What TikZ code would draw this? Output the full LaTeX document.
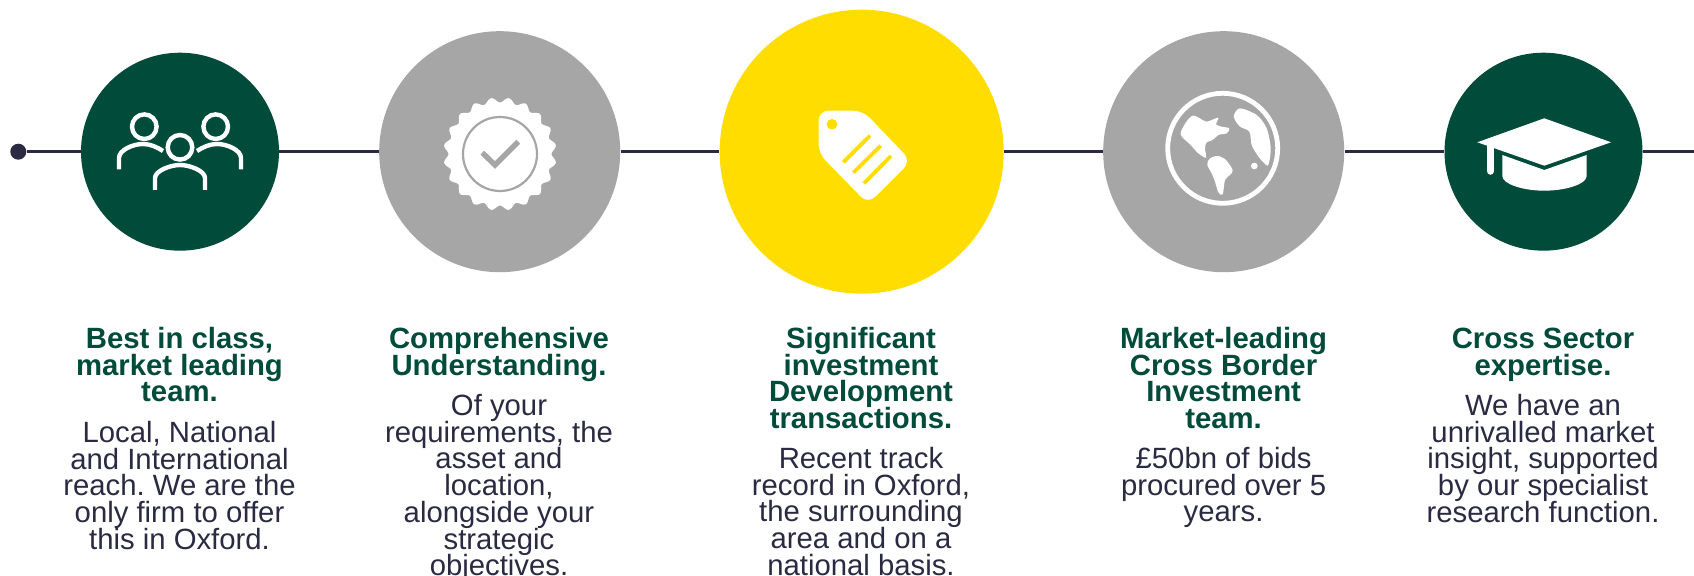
\documentclass[tikz,border=0pt]{standalone}
\usepackage{fontspec}
\setmainfont{Liberation Sans}
\definecolor{fgreen}{HTML}{004B3A}
\definecolor{fgray}{HTML}{A6A6A6}
\definecolor{fyellow}{HTML}{FFDD00}
\definecolor{fdark}{HTML}{2A2A42}
\lineskiplimit=-100pt
\frenchspacing
\newcommand{\firstln}{\vrule width 0pt height 11pt\relax}
\newcommand{\hfnt}{\frenchspacing\bfseries\fontsize{14.65}{13.38}\selectfont}
\newcommand{\bfnt}{\frenchspacing\fontsize{14.65}{13.38}\selectfont}
\tikzset{
  disc/.style={circle,inner sep=0pt,minimum size=#1*0.5pt},
  headtext/.style={font=\hfnt,text=fgreen,align=center,inner sep=0pt,anchor=north},
  bodytext/.style={font=\bfnt,text=fdark,align=center,inner sep=0pt,anchor=north},
  rail/.style={draw=fdark,line width=1.2pt},
  ico/.style={draw=white,line width=2.2pt,line cap=butt,fill=none}
}
\begin{document}
\begin{tikzpicture}[x=0.5pt,y=-0.5pt]
\useasboundingbox (0,0) rectangle (1694,576);
\fill[white] (0,0) rectangle (1694,576);
% rail
\node[disc=16,fill=fdark] (dot) at (18.3,151.7) {};
\coordinate (railend) at (1694,151.7);
\node[disc=198,fill=fgreen] (c1) at (180,151.7) {};
\node[disc=241,fill=fgray] (c2) at (499.7,151.7) {};
\node[disc=284,fill=fyellow] (c3) at (861.7,151.7) {};
\node[disc=241,fill=fgray] (c4) at (1223.7,151.7) {};
\node[disc=198,fill=fgreen] (c5) at (1543.5,151.7) {};
\draw[rail] (dot) -- (c1);
\draw[rail] (c1) -- (c2);
\draw[rail] (c2) -- (c3);
\draw[rail] (c3) -- (c4);
\draw[rail] (c4) -- (c5);
\draw[rail] (c5) -- (railend);
% people icon
\draw[ico] (144.3,126.7) circle (12.3);
\draw[ico] (215.7,126.7) circle (12.3);
\draw[ico] (180,147.3) circle (12.3);
\draw[ico] (119,169.3) -- (119,158) .. controls (119,150) and (133,144) .. (143,144) .. controls (150,144) and (157,147) .. (163,151);
\draw[ico] (241,169.3) -- (241,158) .. controls (241,150) and (227,144) .. (217,144) .. controls (210,144) and (203,147) .. (197,151);
\draw[ico] (155,190) -- (155,178) .. controls (155,171) and (170,165) .. (180,165) .. controls (190,165) and (205,171) .. (205,178) -- (205,190);
% badge icon
\fill[white] plot[domain=0:360,samples=241,variable=\t] ({500+(54+2.5*cos(20*\t+180))*cos(\t)},{154+(54+2.5*cos(20*\t+180))*sin(\t)}) -- cycle;
\draw[fgray,line width=1.1pt] (500,154) circle (37);
\draw[fgray,line width=2.7pt] (482.3,152.7) -- (495,165) -- (518.3,141.7);
% tag icon
\fill[white,rounded corners=5pt] (818.5,110.7) -- (863,110.7) -- (911,161) -- (868,204) -- (818.5,153.3) -- cycle;
\fill[fyellow] (832,124.3) circle (5.3);
\draw[fyellow,line width=1.9pt] (843.3,162.3) -- (870,135.7);
\draw[fyellow,line width=1.9pt] (853.3,172.7) -- (880.7,145.7);
\draw[fyellow,line width=1.9pt] (864,183.3) -- (891,156);
% globe icon
\draw[white,line width=2.4pt] (1222.7,148.3) circle (55);
\begin{scope}[shift={(1150,85)},x=0.16667pt,y=-0.16667pt]
\fill[white] plot[smooth cycle,tension=0.5] coordinates {(92,148) (108,112) (128,92) (150,100) (170,110) (205,98) (198,118) (215,125) (238,130) (230,145) (205,150) (188,165) (170,172) (165,190) (168,218) (145,205) (122,180)};
\fill[white] plot[smooth cycle,tension=0.5] coordinates {(172,240) (178,222) (200,213) (225,222) (248,255) (240,270) (225,285) (218,328) (205,322) (195,290) (185,265)};
\fill[white] plot[smooth cycle,tension=0.5] coordinates {(252,90) (270,70) (320,90) (350,130) (362,190) (355,240) (340,232) (322,210) (305,180) (298,140) (270,125) (255,105)};
\fill[white] (313,243) circle (10);
\end{scope}
% cap icon
\fill[white] (1477.3,142.3) -- (1544.3,118.3) -- (1611,142.3) -- (1544.3,165.7) -- cycle;
\fill[white] (1502.3,155) -- (1544.3,170) -- (1586.7,155) -- (1586.7,176) .. controls (1586.7,184) and (1566,190.7) .. (1544.3,190.7) .. controls (1523,190.7) and (1502.3,184) .. (1502.3,176) -- cycle;
\draw[white,line width=3.8pt,line cap=round] (1490.5,146) -- (1490.5,171);
% texts
\node[headtext] (h1) at (179.5,326) {\firstln Best in class,\\market leading\\team.};
\node[bodytext] (b1) at (179.5,420) {\firstln Local, National\\and International\\reach. We are the\\only firm to offer\\this in Oxford.};
\node[headtext] (h2) at (499,326) {\firstln Comprehensive\\Understanding.};
\node[bodytext] (b2) at (499,393) {\firstln Of your\\requirements, the\\asset and\\location,\\alongside your\\strategic\\objectives.};
\node[headtext] (h3) at (861,326) {\firstln Significant\\investment\\Development\\transactions.};
\node[bodytext] (b3) at (861,446) {\firstln Recent track\\record in Oxford,\\the surrounding\\area and on a\\national basis.};
\node[headtext] (h4) at (1223.6,326) {\firstln Market-leading\\Cross Border\\Investment\\team.};
\node[bodytext] (b4) at (1223.6,446) {\firstln £50bn of bids\\procured over 5\\years.};
\node[headtext] (h5) at (1543,326) {\firstln Cross Sector\\expertise.};
\node[bodytext] (b5) at (1543,393) {\firstln We have an\\unrivalled market\\insight, supported\\by our specialist\\research function.};
\end{tikzpicture}
\end{document}
